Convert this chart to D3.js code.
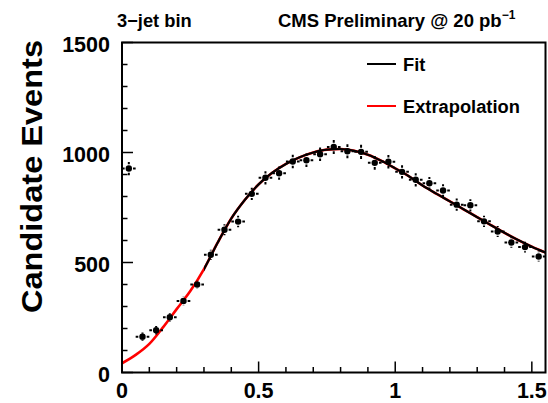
<!DOCTYPE html>
<html>
<head>
<meta charset="utf-8">
<script src="https://cdn.jsdelivr.net/npm/d3@7"></script>
<style>
  body { margin: 0; background: #fff; }
  svg { display: block; }
  text { font-family: "Liberation Sans", Arial, Helvetica, sans-serif; font-weight: bold; }
</style>
</head>
<body>
<div id="chart"></div>
<script>
// bin centers and counts
const binCenters = [0.025, 0.075, 0.125, 0.175, 0.225, 0.275, 0.325, 0.375, 0.425, 0.475,
  0.525, 0.575, 0.625, 0.675, 0.725, 0.775, 0.825, 0.875, 0.925, 0.975,
  1.025, 1.075, 1.125, 1.175, 1.225, 1.275, 1.325, 1.375, 1.425, 1.475, 1.525]
const counts = [927, 163, 192, 251, 325, 400, 535, 649, 686, 812,
  885, 906, 959, 965, 992, 1025, 1006, 1003, 953, 958,
  912, 876, 860, 827, 763, 760, 687, 641, 591, 570, 527]
const countErrors = [30, 13, 14, 16, 18, 20, 23, 25, 26, 28,
  30, 30, 31, 31, 31, 32, 32, 32, 31, 31,
  30, 30, 29, 29, 28, 28, 26, 25, 24, 24, 23]
const binHalfWidth = 0.025

// fitted curve
const curveX = [0, 0.05, 0.1, 0.15, 0.2, 0.25, 0.3, 0.35, 0.4, 0.45, 0.5, 0.55, 0.6, 0.65,
  0.7, 0.75, 0.8, 0.85, 0.9, 0.95, 1.0, 1.05, 1.1, 1.15, 1.2, 1.25, 1.3, 1.35, 1.4, 1.45, 1.5, 1.55]
const curveY = [42, 80, 130, 205, 288, 370, 470, 590, 700, 785, 855, 908, 948, 978,
  1000, 1013, 1016, 1008, 990, 962, 928, 892, 850, 813, 778, 742, 706, 670, 635, 602, 572, 545]
const fitStart = 0.3

const xTicks = [0, 0.5, 1, 1.5]
const yTicks = [0, 500, 1000, 1500]

function drawChart() {

  let dimensions = {
    width: 548,
    height: 403,
    margin: { top: 42.5, right: 2.5, bottom: 30.5, left: 122 },
  }
  dimensions.boundedWidth = dimensions.width - dimensions.margin.left - dimensions.margin.right
  dimensions.boundedHeight = dimensions.height - dimensions.margin.top - dimensions.margin.bottom

  const wrapper = d3.select("#chart")
    .append("svg")
      .attr("width", dimensions.width)
      .attr("height", dimensions.height)

  const bounds = wrapper.append("g")
    .attr("transform", `translate(${dimensions.margin.left}, ${dimensions.margin.top})`)

  const xScale = d3.scaleLinear()
    .domain([0, 1.55])
    .range([0, dimensions.boundedWidth])

  const yScale = d3.scaleLinear()
    .domain([0, 1500])
    .range([dimensions.boundedHeight, 0])

  // curves: extrapolation underneath over the full range, fit on top
  const curveData = curveX.map((x, i) => ({ x, y: curveY[i] }))
  const lineGenerator = d3.line()
    .x(d => xScale(d.x))
    .y(d => yScale(d.y))
    .curve(d3.curveMonotoneX)

  bounds.append("path")
      .attr("d", lineGenerator(curveData))
      .attr("fill", "none")
      .attr("stroke", "#ff0000")
      .attr("stroke-width", 2.6)

  bounds.append("path")
      .attr("d", lineGenerator(curveData))
      .attr("fill", "none")
      .attr("stroke", "#000")
      .attr("stroke-width", 2.2)
      .attr("clip-path", "url(#fitClip)")

  wrapper.append("defs").append("clipPath")
      .attr("id", "fitClip")
    .append("rect")
      .attr("x", xScale(fitStart))
      .attr("y", -5)
      .attr("width", dimensions.boundedWidth - xScale(fitStart))
      .attr("height", dimensions.boundedHeight + 10)

  // data points with error bars
  const markerR = 3.2
  const gap = markerR + 1
  const points = bounds.append("g")
    .selectAll("g")
    .data(binCenters.map((x, i) => ({ x, y: counts[i], e: countErrors[i] })))
    .join("g")

  points.append("path")
      .attr("d", d => {
        const cx = xScale(d.x), cy = yScale(d.y)
        const x0 = xScale(d.x - binHalfWidth), x1 = xScale(d.x + binHalfWidth)
        const y0 = yScale(d.y - d.e), y1 = yScale(d.y + d.e)
        return `M${x0},${cy}H${cx - gap}M${cx + gap},${cy}H${x1}` +
          `M${cx},${y1}V${cy - gap}M${cx},${cy + gap}V${y0}`
      })
      .attr("stroke", "#000")
      .attr("stroke-width", 2)
      .attr("fill", "none")

  points.append("circle")
      .attr("cx", d => xScale(d.x))
      .attr("cy", d => yScale(d.y))
      .attr("r", markerR)
      .attr("fill", "#000")

  // frame and inward ticks
  bounds.append("rect")
      .attr("width", dimensions.boundedWidth)
      .attr("height", dimensions.boundedHeight)
      .attr("fill", "none")
      .attr("stroke", "#000")
      .attr("stroke-width", 2)

  const xMinor = d3.range(0, 1.551, 0.1).map(v => +v.toFixed(2))
  bounds.append("g")
    .selectAll("line")
    .data(xMinor)
    .join("line")
      .attr("x1", d => xScale(d))
      .attr("x2", d => xScale(d))
      .attr("y1", dimensions.boundedHeight)
      .attr("y2", d => dimensions.boundedHeight - (xTicks.includes(d) ? 11 : 5.5))
      .attr("stroke", "#000")
      .attr("stroke-width", 1.5)

  const yMinor = d3.range(0, 1501, 100)
  bounds.append("g")
    .selectAll("line")
    .data(yMinor)
    .join("line")
      .attr("x1", 0)
      .attr("x2", d => (yTicks.includes(d) ? 11 : 5.5))
      .attr("y1", d => yScale(d))
      .attr("y2", d => yScale(d))
      .attr("stroke", "#000")
      .attr("stroke-width", 1.5)

  bounds.append("g")
    .selectAll("text")
    .data(xTicks)
    .join("text")
      .attr("x", d => xScale(d))
      .attr("y", dimensions.boundedHeight + 25.5)
      .attr("text-anchor", "middle")
      .style("font-size", "21.5px")
      .text(d => d)

  bounds.append("g")
    .selectAll("text")
    .data(yTicks)
    .join("text")
      .attr("x", -12)
      .attr("y", d => yScale(d) + 9.5)
      .attr("text-anchor", "end")
      .style("font-size", "21.5px")
      .text(d => d)

  // titles
  wrapper.append("text")
      .attr("transform", "translate(42, 176.5) rotate(-90)")
      .attr("text-anchor", "middle")
      .attr("textLength", 273)
      .attr("lengthAdjust", "spacingAndGlyphs")
      .style("font-size", "29px")
      .text("Candidate Events")

  wrapper.append("text")
      .attr("x", 117)
      .attr("y", 26.5)
      .style("font-size", "18.3px")
      .text("3\u2212jet bin")

  const cms = wrapper.append("text")
      .attr("x", 278)
      .attr("y", 26.5)
      .style("font-size", "18.5px")
      .text("CMS Preliminary @ 20 pb")
  cms.append("tspan")
      .attr("dy", -8)
      .style("font-size", "12px")
      .text("\u22121")

  // legend
  const legend = wrapper.append("g")
  const legendItems = [
    { label: "Fit", color: "#000", y: 64 },
    { label: "Extrapolation", color: "#ff0000", y: 106 },
  ]
  legend.selectAll("line")
    .data(legendItems)
    .join("line")
      .attr("x1", 367)
      .attr("x2", 396)
      .attr("y1", d => d.y)
      .attr("y2", d => d.y)
      .attr("stroke", d => d.color)
      .attr("stroke-width", 2)
  legend.selectAll("text")
    .data(legendItems)
    .join("text")
      .attr("x", 403)
      .attr("y", d => d.y + 7.3)
      .style("font-size", "18.3px")
      .text(d => d.label)
}

drawChart()
</script>
</body>
</html>
